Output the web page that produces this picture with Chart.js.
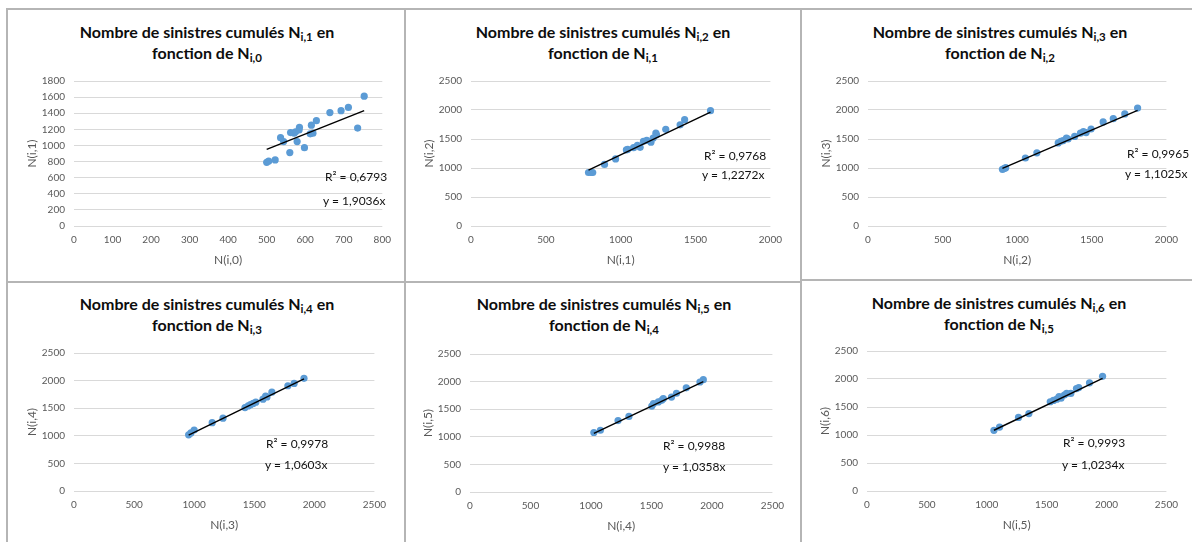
<!DOCTYPE html>
<html>
<head>
<meta charset="utf-8">
<script src="https://cdn.jsdelivr.net/npm/chart.js@4.4.0/dist/chart.umd.min.js"></script>
<style>
  body { margin: 0; background: #fff; }
  #page { position: relative; width: 1192px; height: 542px; overflow: hidden; font-family: Lato, "Noto Sans", sans-serif; }
  .ln { position: absolute; background: #b5b5b5; }
  .title { position: absolute; width: 380px; text-align: center; font-weight: bold; font-size: 16px; line-height: 21px; color: #0d0d0d; }
  .title sub { font-size: 11.5px; vertical-align: -3px; line-height: 0; }
  .note { position: absolute; font-size: 12px; color: #111; white-space: nowrap; transform: translateY(-50%); }
  canvas { position: absolute; }
</style>
</head>
<body>
<div id="page"></div>
<script>
// Data (one pair of arrays per chart)
const x1 = [500, 505, 522, 536, 544, 560, 562, 571, 575, 579, 584, 585, 598, 613, 616, 620, 629, 664, 693, 712, 736, 753];
const y1 = [790, 805, 820, 1096, 1048, 912, 1160, 1152, 1170, 1048, 1192, 1224, 972, 1144, 1252, 1152, 1308, 1408, 1432, 1472, 1216, 1612];

const x2 = [785, 802, 813, 892, 966, 1038, 1047, 1086, 1112, 1130, 1152, 1174, 1202, 1217, 1235, 1239, 1301, 1397, 1427, 1600];
const y2 = [922, 922, 922, 1061, 1156, 1311, 1322, 1350, 1389, 1356, 1461, 1478, 1444, 1517, 1600, 1572, 1667, 1744, 1833, 1989];

const x3 = [901, 912, 923, 1055, 1132, 1275, 1292, 1308, 1330, 1341, 1385, 1424, 1444, 1462, 1495, 1576, 1644, 1721, 1807];
const y3 = [978, 989, 1006, 1172, 1261, 1433, 1461, 1472, 1517, 1500, 1544, 1600, 1628, 1611, 1672, 1794, 1850, 1933, 2033];

const x4 = [954, 973, 1000, 1150, 1240, 1423, 1450, 1469, 1491, 1513, 1573, 1595, 1606, 1647, 1780, 1832, 1914];
const y4 = [1017, 1052, 1105, 1238, 1320, 1512, 1541, 1564, 1587, 1610, 1663, 1721, 1703, 1791, 1907, 1948, 2041];

const x5 = [1024, 1078, 1224, 1314, 1503, 1517, 1557, 1585, 1598, 1666, 1707, 1788, 1901, 1929];
const y5 = [1078, 1119, 1294, 1369, 1556, 1603, 1632, 1661, 1690, 1719, 1789, 1888, 1993, 2034];

const x6 = [1060, 1107, 1265, 1352, 1530, 1557, 1585, 1604, 1620, 1648, 1667, 1702, 1749, 1768, 1858, 1967];
const y6 = [1084, 1141, 1313, 1382, 1594, 1617, 1640, 1686, 1657, 1714, 1743, 1743, 1829, 1846, 1932, 2047];

const slopes = [1.9036, 1.2272, 1.1025, 1.0603, 1.0358, 1.0234];
const r2 = [0.6793, 0.9768, 0.9965, 0.9978, 0.9988, 0.9993];

const xMax = [800, 2000, 2000, 2500, 2500, 2500];
const xStep = [100, 500, 500, 500, 500, 500];
const yMax = [1800, 2500, 2500, 2500, 2500, 2500];
const yStep = [200, 500, 500, 500, 500, 500];

const xs = [x1, x2, x3, x4, x5, x6];
const ys = [y1, y2, y3, y4, y5, y6];

// layout: plot area [left, top, right, bottom], title centre, note positions
const plots = [
  [74, 76, 385, 226], [471, 76, 776, 226], [868, 76, 1172, 226],
  [74, 348, 380, 491], [470, 349, 778, 492], [867, 346, 1172, 491]
];
const titlePos = [[207, 31], [603, 31], [1000, 31], [207, 303], [604, 303], [999, 302]];
const notePos = [
  [325, 176, 323, 200], [704, 155, 702, 174], [1127, 153, 1125, 173],
  [266, 443, 265, 464], [663, 445, 663, 466], [1063, 442, 1062, 464]
];

const page = document.getElementById("page");

function addLine(l, t, w, h) {
  const d = document.createElement("div");
  d.className = "ln";
  d.style.left = l + "px"; d.style.top = t + "px";
  d.style.width = w + "px"; d.style.height = h + "px";
  page.appendChild(d);
}
// panel borders
addLine(6, 8, 1186, 2);
addLine(6, 8, 2, 534);
addLine(404, 8, 2, 534);
addLine(800, 8, 2, 534);
addLine(6, 281, 795, 2);
addLine(801, 279, 391, 2);

const fmt = (v) => v.toFixed(4).replace(".", ",");

for (let k = 0; k < 6; k++) {
  const [l, t, r, b] = plots[k];
  const yW = 49, xH = 46, padT = 10, padR = 14;

  // title with subscripts
  const title = document.createElement("div");
  title.className = "title";
  title.style.left = (titlePos[k][0] - 190) + "px";
  title.style.top = (titlePos[k][1] - 10.5) + "px";
  title.innerHTML = "Nombre de sinistres cumulés N<sub>i," + (k + 1) + "</sub> en<br>fonction de N<sub>i," + k + "</sub>";
  page.appendChild(title);

  const canvas = document.createElement("canvas");
  const cw = (r - l) + yW + padR, ch = (b - t) + padT + xH;
  canvas.width = cw; canvas.height = ch;
  canvas.style.left = (l - yW) + "px";
  canvas.style.top = (t - padT) + "px";
  canvas.style.width = cw + "px"; canvas.style.height = ch + "px";
  page.appendChild(canvas);

  const pts = xs[k].map((x, i) => ({ x: x, y: ys[k][i] }));
  const xmin = Math.min(...xs[k]), xmax = Math.max(...xs[k]);
  const trend = [{ x: xmin, y: slopes[k] * xmin }, { x: xmax, y: slopes[k] * xmax }];

  new Chart(canvas.getContext("2d"), {
    type: "scatter",
    data: {
      datasets: [
        {
          data: trend,
          showLine: true,
          borderColor: "#000",
          borderWidth: 1.4,
          pointRadius: 0,
          order: 0,
        },
        {
          data: pts,
          backgroundColor: "#5b9bd5",
          borderWidth: 0,
          pointRadius: 3.6,
          order: 1,
        },
      ],
    },
    options: {
      responsive: false,
      animation: false,
      devicePixelRatio: 1,
      layout: { padding: { left: 0, top: padT, right: padR, bottom: 0 } },
      plugins: { legend: { display: false }, tooltip: { enabled: false } },
      scales: {
        x: {
          type: "linear",
          min: 0,
          max: xMax[k],
          afterFit: (s) => { s.height = xH; },
          grid: { display: false, drawTicks: false },
          border: { display: false },
          ticks: {
            stepSize: xStep[k],
            padding: 8,
            color: "#595959",
            font: { family: "Lato", size: 10 },
            maxRotation: 0,
            callback: (v) => String(v),
          },
          title: {
            display: true,
            text: "N(i," + k + ")",
            color: "#595959",
            font: { family: "Lato", size: 12 },
            padding: { top: 0, bottom: 5 },
          },
        },
        y: {
          type: "linear",
          min: 0,
          max: yMax[k],
          afterFit: (s) => { s.width = yW; },
          grid: { color: "#d9d9d9", lineWidth: 1, drawTicks: false },
          border: { display: false },
          ticks: {
            stepSize: yStep[k],
            padding: 9,
            color: "#595959",
            font: { family: "Lato", size: 10 },
            callback: (v) => String(v),
          },
          title: {
            display: true,
            text: "N(i," + (k + 1) + ")",
            color: "#595959",
            font: { family: "Lato", size: 12 },
            padding: { top: 0, bottom: 0 },
          },
        },
      },
    },
  });

  // trendline labels
  const n1 = document.createElement("div");
  n1.className = "note";
  n1.style.left = notePos[k][0] + "px"; n1.style.top = notePos[k][1] + "px";
  n1.textContent = "R² = " + fmt(r2[k]);
  page.appendChild(n1);
  const n2 = document.createElement("div");
  n2.className = "note";
  n2.style.left = notePos[k][2] + "px"; n2.style.top = notePos[k][3] + "px";
  n2.textContent = "y = " + fmt(slopes[k]) + "x";
  page.appendChild(n2);
}
</script>
</body>
</html>
